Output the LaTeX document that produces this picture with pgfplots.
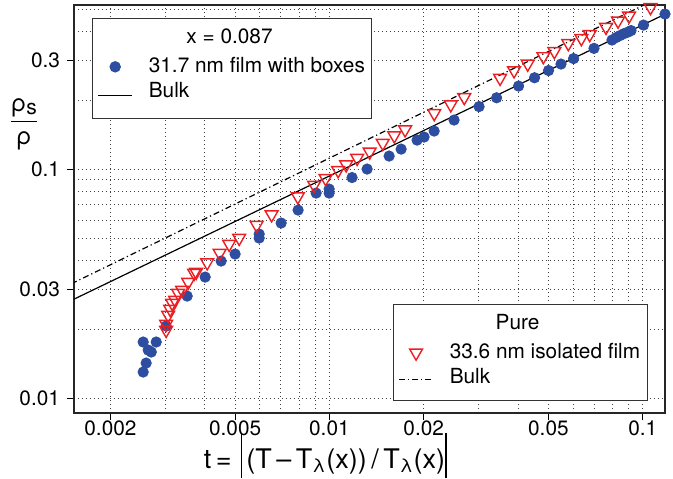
\documentclass[border=0pt]{standalone}
\usepackage{pgfplots}
\pgfplotsset{compat=1.18}
\usepackage{fontspec}
\setmainfont{TeX Gyre Heros}
\usepackage{calc}
\definecolor{dotblue}{RGB}{44,77,160}
\definecolor{trired}{RGB}{235,30,35}
\begin{document}
\begin{tikzpicture}
\useasboundingbox (-37pt,-32.5pt) rectangle (299.5pt,206.5pt);
\begin{axis}[
  width=295.5pt, height=204pt, scale only axis,
  xmode=log, ymode=log,
  xmin=0.00153, xmax=0.1178, ymin=0.00863, ymax=0.522,
  at={(0pt,0pt)}, anchor=south west,
  legend cell align=left,
  legend style={draw=black!80, line width=0.5pt, fill=white,
    inner xsep=2.5pt, inner ysep=3.4pt,
    nodes={inner xsep=1pt, inner ysep=1.6pt, text depth=0.15em},
    font=\fontsize{10.4}{12}\selectfont,
    /tikz/every odd column/.append style={column sep=7pt},
    at={(axis description cs:0.0305,0.968)}, anchor=north west},
  axis line style={line width=0.6pt, black!85},
  grid=both,
  major grid style={dash pattern=on 0.5pt off 1.5pt, line width=0.5pt, black!75},
  minor grid style={dash pattern=on 0.5pt off 1.5pt, line width=0.5pt, black!75},
  xtick={0.002,0.005,0.01,0.02,0.05,0.1},
  xticklabels={0.002,0.005,0.01,0.02,0.05,0.1},
  minor xtick={0.003,0.004,0.006,0.007,0.008,0.009,0.03,0.04,0.06,0.07,0.08,0.09},
  ytick={0.01,0.03,0.1,0.3},
  yticklabels={0.01,0.03,0.1,0.3},
  minor ytick={0.02,0.04,0.05,0.06,0.07,0.08,0.09,0.2,0.4,0.5},
  tick pos=left, tick align=outside, major tick length=3.5pt, minor tick length=0pt,
  tick style={black, line width=0.5pt},
  tick label style={font=\fontsize{10.4}{12}\selectfont},
  xticklabel style={yshift=3pt},
  xlabel={t\,=\,\,\rule[-4.5pt]{0.65pt}{22.5pt}\,(T\,–\,T\textsubscript{λ}(x))\,/\,T\textsubscript{λ}(x)\rule[-4.5pt]{0.65pt}{22.5pt}},
  every axis x label/.style={at={(axis description cs:0.425,-0.103)}, anchor=center, font=\fontsize{13.5}{15}\selectfont},
  ylabel={$\displaystyle\frac{\mbox{ρ\raisebox{-1.5pt}{\fontsize{10.5}{11}\selectfont s}}}{\mbox{ρ}}$},
  every axis y label/.style={at={(axis description cs:-0.0846,0.708)}, anchor=center, font=\fontsize{12}{14}\selectfont},
]
\addlegendimage{empty legend}
\addlegendentry{\raisebox{2.5pt}{\hspace*{-13.7pt}\makebox[\widthof{31.7 nm film with boxes}][c]{x = 0.087}}}
\addplot[only marks, mark=*, mark size=2.6pt, color=dotblue] coordinates {
(0.002544,0.01762) (0.00280,0.01762) (0.00264,0.01625) (0.00270,0.01593) (0.00260,0.01426) (0.002544,0.01303) (0.003012,0.02069) (0.003515,0.02797) (0.004012,0.03386) (0.004512,0.03977) (0.005,0.04267) (0.005967,0.05218) (0.005967,0.05012) (0.007013,0.05829) (0.007946,0.06641) (0.00907,0.0788) (0.00998,0.08204) (0.00998,0.0788) (0.01181,0.0921) (0.01319,0.1003) (0.01551,0.1143) (0.01694,0.1226) (0.01905,0.1342) (0.02005,0.1384) (0.02159,0.147) (0.025,0.1642) (0.03004,0.188) (0.03417,0.2054) (0.04016,0.2311) (0.04516,0.2512) (0.05005,0.2701) (0.05486,0.2883) (0.06015,0.3046) (0.06991,0.3376) (0.0798,0.367) (0.08219,0.3763) (0.08464,0.384) (0.08717,0.3917) (0.08977,0.3977) (0.09178,0.4037) (0.1006,0.4267) (0.1178,0.4767)
};
\addlegendentry{31.7 nm film with boxes}
\addplot[black, line width=0.6pt] coordinates {(0.0015,0.02676) (0.12,0.4819)};
\addlegendentry[text depth=5.5pt]{Bulk}
\end{axis}
\begin{axis}[
  width=295.5pt, height=204pt, scale only axis,
  xmode=log, ymode=log,
  xmin=0.00153, xmax=0.1178, ymin=0.00863, ymax=0.522,
  at={(0pt,0pt)}, anchor=south west,
  hide axis,
  legend cell align=left,
  legend style={draw=black!80, line width=0.5pt, fill=white,
    inner xsep=2.5pt, inner ysep=3.4pt,
    nodes={inner xsep=1pt, inner ysep=1.6pt, text depth=0.15em},
    font=\fontsize{10.4}{12}\selectfont,
    /tikz/every odd column/.append style={column sep=7pt},
    at={(axis description cs:0.9707,0.0294)}, anchor=south east},
]
\addlegendimage{empty legend}
\addlegendentry{\raisebox{2.5pt}{\hspace*{-13.7pt}\makebox[\widthof{33.6 nm isolated film}][c]{Pure}}}
\addplot[only marks, mark=triangle, mark size=3.7pt, color=trired, mark options={rotate=180, line width=0.7pt}] coordinates {
(0.003012,0.01987) (0.003012,0.02111) (0.003057,0.02311) (0.003102,0.02455) (0.003148,0.02607) (0.003218,0.02687) (0.003289,0.02883) (0.003388,0.02971) (0.003541,0.0322) (0.003701,0.03525) (0.003756,0.0356) (0.004072,0.03917) (0.004463,0.0431) (0.004786,0.04718) (0.005151,0.05012) (0.005858,0.05713) (0.006539,0.06347) (0.00793,0.07606) (0.008937,0.0854) (0.009725,0.09135) (0.01066,0.099) (0.01131,0.1049) (0.01226,0.112) (0.01344,0.1193) (0.0148,0.1303) (0.01611,0.1405) (0.01744,0.1492) (0.02161,0.1756) (0.0244,0.1919) (0.02694,0.2063) (0.03505,0.2504) (0.03885,0.2701) (0.04295,0.2888) (0.04817,0.3114) (0.05224,0.3275) (0.05789,0.3549) (0.0637,0.3733) (0.06774,0.389) (0.07637,0.4182) (0.08342,0.4451) (0.09042,0.4681) (0.1059,0.51)
};
\addlegendentry{33.6 nm isolated film}
\addplot[black, line width=0.6pt, dash pattern=on 3pt off 1.5pt on 0.6pt off 1.5pt] coordinates {(0.0015,0.03164) (0.12,0.586)};
\addlegendentry[text depth=3.5pt]{Bulk}
\end{axis}
\end{tikzpicture}
\end{document}
